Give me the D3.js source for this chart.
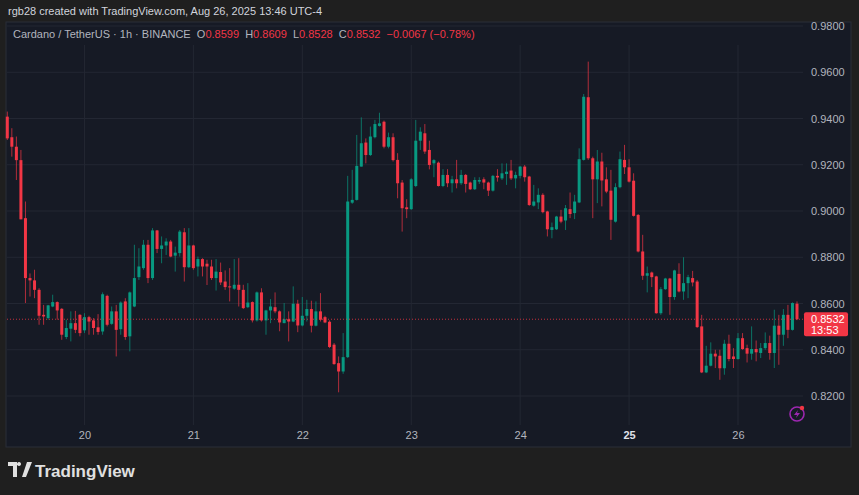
<!DOCTYPE html>
<html><head><meta charset="utf-8">
<script src="https://cdn.jsdelivr.net/npm/d3@7"></script>
<style>html,body{margin:0;padding:0;background:#1f1f1f;overflow:hidden}svg{display:block}</style>
</head><body>
<script>
const opens=[.9408,.9319,.9278,.922,.8969,.871,.870,.8659,.8551,.8537,.8587,.8606,.8577,.8455,.8491,.8515,.8551,.8484,.8541,.8527,.8497,.8479,.8633,.8512,.8566,.8489,.8609,.8458,.8587,.8714,.8753,.8854,.871,.8916,.8836,.8851,.8868,.8807,.8818,.8908,.8757,.8851,.876,
.8792,.8772,.876,.871,.8736,.8695,.8674,.8664,.8681,.8659,.8584,.8606,.8527,.8648,.8527,.857,.8584,.8566,.8515,.8532,.8522,.8599,.8505,.8547,.8576,.8504,.8566,.8541,.8521,.8422,.8342,.8306,.8368,.9036,.9048,.9192,.9296,.9242,.9319,.9368,.9386,.9278,.9319,
.9221,.9123,.9016,.9008,.9108,.9304,.9336,.9264,.9206,.9209,.9108,.9156,.912,.9137,.912,.9156,.9123,.9094,.9127,.9137,.9123,.9088,.9152,.9141,.9160,.9175,.9141,.9152,.9192,.9149,.9023,.9037,.907,.8998,.8918,.8921,.8976,.8959,.9008,.8991,.9037,.9221,.9492,.9228,.9137,
.9214,.9137,.9088,.8954,.9103,.9221,.9189,.9131,.8983,.8825,.872,.8734,.8717,.8558,.8662,.8708,.8628,.8728,.8652,.8688,.8710,.8695,.8501,.8302,.8331,.8383,.8374,.832,.8426,.8371,.836,.845,.8407,.8383,.8403,.8386,.8407,.8429,.8386,.8504,.8465,.8551,.8486,.8599];
const highs=[.943,.9358,.9322,.9264,.9041,.873,.8746,.8666,.8594,.8594,.8638,.8609,.858,.853,.8566,.8568,.8554,.8558,.8547,.8537,.8554,.8648,.8638,.8587,.8594,.8609,.8623,.8652,.8854,.8839,.8875,.8875,.8926,.8918,.889,.8882,.8875,.8846,.8918,.8926,.8926,.8854,.8803,
.8796,.8789,.8789,.8792,.8777,.8743,.8753,.8792,.8796,.8681,.8688,.8609,.8652,.8666,.8573,.8619,.8648,.857,.8602,.8566,.8674,.8616,.8628,.8616,.8612,.8609,.8645,.8547,.8527,.8429,.8371,.8472,.9152,.9178,.9329,.9405,.9314,.9365,.9394,.9425,.9391,.9339,.9336,
.925,.9134,.9051,.9142,.9394,.9362,.9376,.9304,.9224,.9214,.9181,.9181,.9152,.9221,.9178,.9160,.9127,.9146,.9146,.9146,.9127,.9156,.9181,.9206,.9206,.9221,.9170,.9195,.9199,.9152,.9113,.9098,.9077,.9001,.8950,.8979,.9005,.9026,.9080,.907,.9271,.9506,.9646,.9235,.9264,
.9252,.9189,.9178,.912,.9257,.9286,.9224,.9163,.8987,.8897,.876,.8738,.872,.8671,.8711,.8711,.8746,.8774,.8800,.8724,.8741,.8702,.8551,.8417,.8432,.840,.840,.8443,.8465,.8407,.8472,.8472,.8422,.8501,.8440,.8429,.8475,.8461,.8573,.8551,.8576,.8594,.8605,.8609];
const lows=[.9307,.9235,.9134,.8964,.8602,.863,.8623,.8508,.8508,.8530,.8584,.853,.8443,.8446,.8436,.8472,.8458,.8472,.8465,.8465,.8465,.8465,.8501,.8508,.8371,.8465,.8443,.8393,.8584,.8702,.8746,.8688,.8702,.8818,.8774,.881,.880,.8738,.8803,.8695,.8753,.8746,.8717,
.8717,.868,.8702,.8656,.868,.8659,.8609,.8659,.8587,.8576,.858,.8518,.8522,.8522,.8465,.8515,.8558,.848,.8515,.8436,.8519,.8476,.8501,.8522,.8475,.8501,.8522,.8515,.8407,.8335,.8216,.8296,.8364,.9031,.9045,.9192,.9206,.9238,.9314,.9365,.9271,.9271,.9214,
.9055,.8911,.8969,.9005,.9103,.9264,.9247,.918,.9146,.9106,.9103,.9103,.9080,.9098,.9113,.908,.9091,.9091,.9117,.9094,.9065,.9084,.9127,.9134,.9113,.9134,.9098,.9141,.9127,.9022,.9019,.9008,.8990,.889,.8882,.8918,.8947,.8918,.8969,.8965,.9034,.9218,.9221,.8969,.9034,
.902,.9077,.8875,.895,.9098,.916,.9123,.8976,.8821,.8702,.8648,.8671,.8556,.8551,.8659,.8551,.8616,.8648,.8616,.8623,.8674,.8494,.8299,.8299,.8328,.8321,.8270,.8292,.8350,.8321,.8357,.840,.8345,.8357,.8350,.8364,.8400,.8357,.8321,.8335,.8417,.845,.8483,.8528];
const closes=[.9314,.9278,.922,.8964,.871,.870,.8659,.8547,.8544,.8592,.8606,.857,.8465,.8494,.8515,.8486,.8472,.8541,.8522,.8494,.8477,.8640,.8508,.8566,.8486,.8604,.8455,.8648,.8710,.876,.8854,.871,.8916,.8836,.8851,.8868,.8803,.882,.8911,.8757,.8851,.8753,.8792,
.876,.876,.871,.8738,.8691,.8671,.8671,.8681,.8659,.858,.8604,.8527,.8648,.8527,.857,.8587,.8566,.8518,.8532,.8522,.8599,.8505,.8547,.8576,.8504,.8566,.853,.8518,.8412,.8338,.8306,.8368,.9041,.9048,.9195,.9293,.9242,.9322,.9376,.9379,.9278,.9319,.922,
.912,.9012,.9008,.9137,.9304,.9343,.9257,.9199,.922,.9108,.9156,.912,.9137,.912,.9156,.9117,.9094,.9134,.9134,.9123,.9088,.9152,.9145,.9163,.9170,.9141,.9156,.9192,.9146,.9026,.9041,.907,.8995,.8921,.8930,.8976,.8954,.9012,.8987,.9041,.9224,.9494,.9228,.9137,.9214,
.9132,.9084,.8962,.9103,.9224,.9189,.9127,.8979,.8825,.872,.8731,.8714,.8558,.8662,.8708,.8628,.8743,.8652,.8688,.8714,.8691,.8498,.8302,.8331,.8383,.8371,.832,.8426,.836,.836,.845,.8403,.8383,.8403,.8389,.8407,.8429,.8386,.8504,.8465,.8551,.8486,.8602,.8532];
const startTime=new Date(2025,7,19,7);
const priceTicks=[0.82,0.84,0.86,0.88,0.90,0.92,0.94,0.96,0.98];
const dayTicks=[20,21,22,23,24,25,26];
const lastPrice=0.8532, countdown="13:53";

const W=859,H=495;
const svg=d3.select("body").append("svg").attr("width",W).attr("height",H);
const font="'Liberation Sans',Arial,sans-serif";
svg.append("rect").attr("width",W).attr("height",H).attr("fill","#1f1f1f");
svg.append("text").attr("x",8).attr("y",15).attr("fill","#d1d4dc").attr("font-size",11).attr("font-family",font).text("rgb28 created with TradingView.com, Aug 26, 2025 13:46 UTC-4");
svg.append("rect").attr("x",6).attr("y",22).attr("width",845).attr("height",425).attr("fill","#161a25").attr("stroke","#2a2e39");
const hour=3600e3;
const times=opens.map((d,i)=>new Date(+startTime+i*hour));
const x=d3.scaleTime().domain([times[0],times[times.length-1]]).range([7.3,797]);
const y=d3.scaleLinear().domain([0.82,0.98]).range([396,26]);
const grid="#232733";
svg.append("g").selectAll("line").data(priceTicks).join("line")
 .attr("x1",7).attr("x2",803).attr("y1",d=>y(d)).attr("y2",d=>y(d)).attr("stroke",grid);
const dayDates=dayTicks.map(d=>new Date(2025,7,d));
svg.append("g").selectAll("line").data(dayDates).join("line")
 .attr("x1",d=>x(d)).attr("x2",d=>x(d)).attr("y1",45).attr("y2",425).attr("stroke",grid);
const ya=d3.axisRight(y).tickValues(priceTicks).tickFormat(d3.format(".4f")).tickSize(0).tickPadding(0);
const yg=svg.append("g").attr("transform","translate(811,0)").call(ya);
yg.select(".domain").remove();
yg.selectAll("text").attr("fill","#b2b5be").attr("font-size",11).attr("font-family",font);
const xa=d3.axisBottom(x).tickValues(dayDates).tickFormat(d=>d.getDate()).tickSize(0).tickPadding(0);
const xg=svg.append("g").attr("transform","translate(0,431)").call(xa);
xg.select(".domain").remove();
xg.selectAll("text").attr("fill",d=>d.getDate()===25?"#e0e3eb":"#b2b5be").attr("font-weight",d=>d.getDate()===25?"bold":"normal").attr("font-size",11).attr("font-family",font);
const up="#089981",dn="#f23645";
const g=svg.append("g");
const data=opens.map((o,i)=>({t:times[i],o,h:highs[i],l:lows[i],c:closes[i]}));
g.selectAll("line").data(data).join("line")
 .attr("x1",d=>x(d.t)).attr("x2",d=>x(d.t)).attr("y1",d=>y(d.h)).attr("y2",d=>y(d.l))
 .attr("stroke",d=>d.c>=d.o?up:dn).attr("stroke-width",1).attr("opacity",0.7);
g.selectAll("rect").data(data).join("rect")
 .attr("x",d=>x(d.t)-1.5).attr("width",3)
 .attr("y",d=>y(Math.max(d.o,d.c))).attr("height",d=>Math.max(1,Math.abs(y(d.o)-y(d.c))))
 .attr("fill",d=>d.c>=d.o?up:dn);
svg.append("line").attr("x1",7).attr("x2",804).attr("y1",y(lastPrice)).attr("y2",y(lastPrice))
 .attr("stroke",dn).attr("stroke-dasharray","1,2").attr("opacity",0.8);
svg.append("rect").attr("x",804).attr("y",y(lastPrice)-7).attr("width",44).attr("height",24).attr("rx",2).attr("fill",dn);
svg.append("text").attr("x",811).attr("y",y(lastPrice)+4).attr("fill","#fff").attr("font-size",11).attr("font-family",font).text(d3.format(".4f")(lastPrice));
svg.append("text").attr("x",811).attr("y",y(lastPrice)+15).attr("fill","#fff").attr("font-size",11).attr("font-family",font).text(countdown);
const leg=svg.append("text").attr("x",13).attr("y",38).attr("font-size",11).attr("font-family",font).attr("style","white-space:pre");
const o=opens[opens.length-1],h=highs[highs.length-1],l=lows[lows.length-1],c=closes[closes.length-1];
[["Cardano / TetherUS · 1h · BINANCE  ","#b2b5be"],["O","#b2b5be"],[o.toFixed(4)+"  ",dn],["H","#b2b5be"],[h.toFixed(4)+"  ",dn],["L","#b2b5be"],[l.toFixed(4)+"  ",dn],["C","#b2b5be"],[c.toFixed(4)+"  −0.0067 (−0.78%)",dn]]
 .forEach(([t,col])=>leg.append("tspan").attr("fill",col).text(t));
const ic=svg.append("g").attr("transform","translate(797,414)");
ic.append("circle").attr("r",7).attr("fill","none").attr("stroke","#9c27b0").attr("stroke-width",1.6);
ic.append("path").attr("d","M1,-4 L-3,1 L0,1 L-1,4 L3,-1 L0,-1 Z").attr("fill","#9c27b0");
ic.append("circle").attr("cx",5).attr("cy",-6).attr("r",2.2).attr("fill","#f23645");
const lg=svg.append("g").attr("transform","translate(8,462)");
lg.append("path").attr("d","M0,0 H9 V15 H5 V4 H0 Z M11,4 A2,2 0 1 1 11.01,4 M14,15 L19,0 H24 L18,15 Z").attr("fill","#e0e0e0");
svg.append("text").attr("x",35).attr("y",477).attr("fill","#e0e0e0").attr("font-size",17).attr("font-weight","bold").attr("font-family",font).text("TradingView");
</script>
</body></html>
